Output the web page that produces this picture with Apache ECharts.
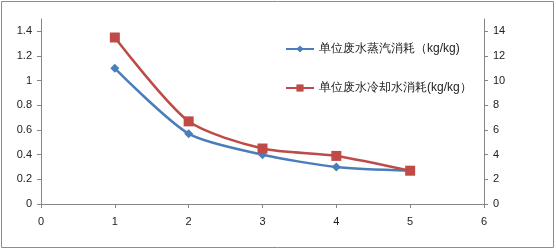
<!DOCTYPE html>
<html><head><meta charset="utf-8">
<script src="https://cdn.jsdelivr.net/npm/echarts@6/dist/echarts.min.js"></script>
<style>html,body{margin:0;padding:0;background:#fff}#c{width:556px;height:251px}</style>
</head><body><div id="c"></div>
<script>
const xValues = [1, 2, 3, 4, 5];
const steamValues = [1.1, 0.57, 0.4, 0.3, 0.27];
const coolingValues = [13.5, 6.7, 4.5, 3.9, 2.7];
const seriesNames = ['单位废水蒸汽消耗（kg/kg)', '单位废水冷却水消耗(kg/kg）'];

const chart = echarts.init(document.getElementById('c'));
const axisColor = '#868686';
const font = 'Liberation Sans, Arial, sans-serif';
chart.setOption({
  animation: false,
  graphic: [{type:'rect', shape:{x:1.5,y:1.5,width:552,height:246}, style:{fill:'none', stroke:'#8c8c8c', lineWidth:1}, silent:true}],
  grid: {left: 41, right: 72, top: 19, bottom: 47, containLabel: false},
  legend: {
    orient: 'vertical', left: 280, top: 38, itemGap: 27, itemWidth: 28, itemHeight: 9,
    textStyle: {fontFamily: font, fontSize: 12, color: '#222'},
    data: seriesNames
  },
  xAxis: {
    type: 'value', min: 0, max: 6, interval: 1,
    axisLine: {lineStyle: {color: axisColor}},
    axisTick: {show: true, length: 4, lineStyle: {color: axisColor}},
    axisLabel: {color: '#222', fontFamily: font, fontSize: 11, margin: 12},
    splitLine: {show: false}
  },
  yAxis: [{
    type: 'value', min: 0, max: 1.5, interval: 0.2,
    axisLine: {show: true, lineStyle: {color: axisColor}},
    axisTick: {show: true, length: 4, lineStyle: {color: axisColor}},
    axisLabel: {color: '#222', fontFamily: font, fontSize: 11, margin: 9, showMaxLabel: false,
      formatter: v => (Math.round(v*10)/10).toString()},
    splitLine: {show: false}
  }, {
    type: 'value', min: 0, max: 15, interval: 2, position: 'right',
    axisLine: {show: true, lineStyle: {color: axisColor}},
    axisTick: {show: true, length: 4, lineStyle: {color: axisColor}},
    axisLabel: {color: '#222', fontFamily: font, fontSize: 11, margin: 9, showMaxLabel: false},
    splitLine: {show: false}
  }],
  series: [{
    name: seriesNames[0], type: 'line', yAxisIndex: 0, smooth: 0.25,
    data: xValues.map((x, i) => [x, steamValues[i]]),
    symbol: 'diamond', symbolSize: 9,
    lineStyle: {color: '#4a7ebb', width: 2.5},
    itemStyle: {color: '#4a7ebb'}
  }, {
    name: seriesNames[1], type: 'line', yAxisIndex: 1, smooth: 0.25,
    data: xValues.map((x, i) => [x, coolingValues[i]]),
    symbol: 'rect', symbolSize: 10,
    lineStyle: {color: '#be4b48', width: 2.5},
    itemStyle: {color: '#be4b48'}
  }]
});
</script></body></html>
